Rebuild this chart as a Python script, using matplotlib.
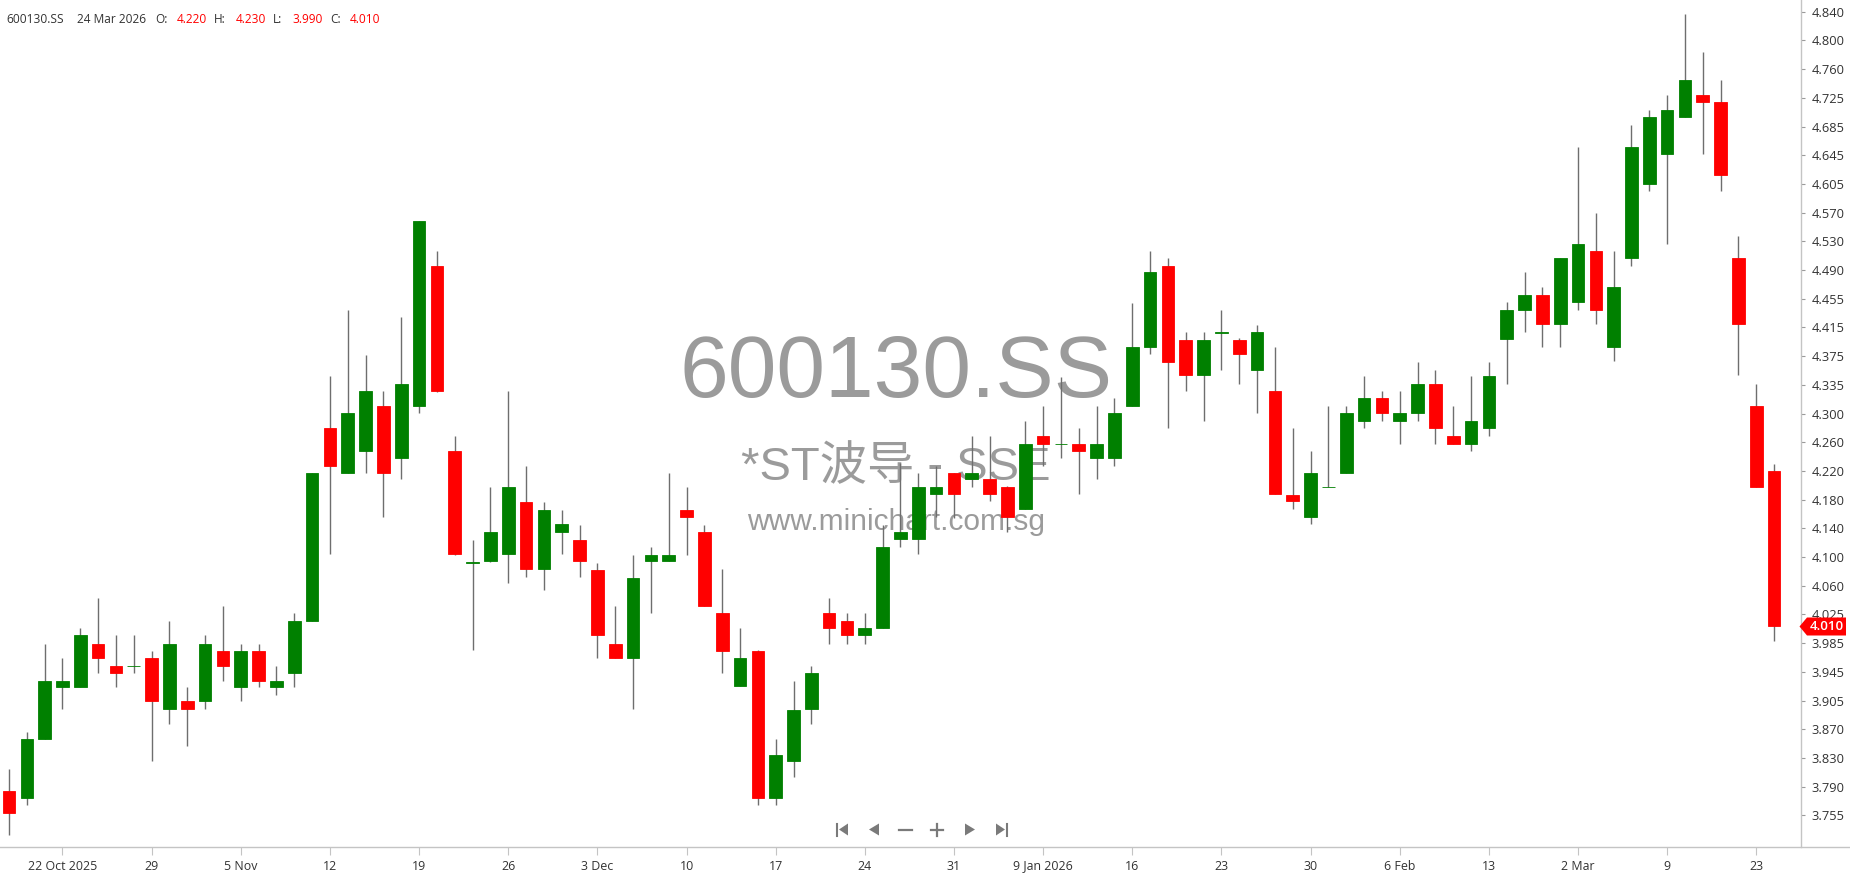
import numpy as np
import matplotlib
matplotlib.use('Agg')
import matplotlib.pyplot as plt
from matplotlib.lines import Line2D
from matplotlib.patches import Polygon

plt.rcParams['font.family'] = ['Open Sans', 'DejaVu Sans']

symbol = '600130.SS'
name = '*ST波导 - SSE'
site = 'www.minichart.com.sg'
last_date = '24 Mar 2026'

# daily OHLC, 17 Oct 2025 .. 24 Mar 2026
opens = [3.788, 3.779, 3.858, 3.928, 3.928, 3.987, 3.957, 3.956, 3.967, 3.898,
         3.909, 3.909, 3.977, 3.928, 3.977, 3.928, 3.947, 4.018, 4.278, 4.217,
         4.247, 4.308, 4.237, 4.308, 4.497, 4.247, 4.096, 4.098, 4.108, 4.178,
         4.088, 4.138, 4.127, 4.086, 3.987, 3.968, 4.098, 4.098, 4.167, 4.137,
         4.028, 3.929, 3.977, 3.779, 3.828, 3.898, 4.028, 4.018, 3.998, 4.008,
         4.128, 4.128, 4.189, 4.217, 4.209, 4.209, 4.198, 4.169, 4.267, 4.256,
         4.256, 4.237, 4.237, 4.308, 4.388, 4.497, 4.397, 4.349, 4.406, 4.397,
         4.357, 4.328, 4.188, 4.158, 4.198, 4.217, 4.288, 4.318, 4.288, 4.298,
         4.338, 4.267, 4.257, 4.278, 4.398, 4.438, 4.458, 4.419, 4.448, 4.517,
         4.388, 4.507, 4.608, 4.648, 4.698, 4.728, 4.718, 4.507, 4.308, 4.220]
highs = [3.817, 3.867, 3.987, 3.967, 4.008, 4.048, 3.998, 3.998, 3.977, 4.018,
         3.928, 3.998, 4.038, 3.987, 3.987, 3.957, 4.028, 4.217, 4.348, 4.438,
         4.377, 4.328, 4.428, 4.558, 4.517, 4.267, 4.127, 4.198, 4.328, 4.227,
         4.178, 4.167, 4.147, 4.096, 4.038, 4.107, 4.118, 4.217, 4.198, 4.147,
         4.087, 4.008, 3.978, 3.858, 3.936, 3.957, 4.048, 4.028, 4.028, 4.147,
         4.231, 4.217, 4.227, 4.217, 4.267, 4.267, 4.200, 4.288, 4.308, 4.347,
         4.278, 4.308, 4.318, 4.447, 4.517, 4.507, 4.407, 4.407, 4.437, 4.400,
         4.417, 4.387, 4.278, 4.247, 4.308, 4.308, 4.348, 4.328, 4.328, 4.367,
         4.356, 4.308, 4.348, 4.367, 4.448, 4.488, 4.468, 4.507, 4.657, 4.568,
         4.517, 4.687, 4.707, 4.728, 4.837, 4.786, 4.748, 4.537, 4.338, 4.230]
lows = [3.728, 3.769, 3.858, 3.898, 3.928, 3.947, 3.928, 3.947, 3.828, 3.878,
        3.848, 3.898, 3.937, 3.909, 3.928, 3.918, 3.928, 4.018, 4.108, 4.217,
        4.217, 4.158, 4.209, 4.298, 4.326, 4.107, 3.978, 4.097, 4.069, 4.077,
        4.059, 4.108, 4.077, 3.968, 3.968, 3.898, 4.028, 4.098, 4.107, 4.038,
        3.947, 3.929, 3.769, 3.769, 3.807, 3.878, 3.987, 3.987, 3.987, 4.008,
        4.118, 4.108, 4.158, 4.156, 4.199, 4.179, 4.138, 4.169, 4.227, 4.237,
        4.189, 4.209, 4.227, 4.308, 4.378, 4.278, 4.328, 4.288, 4.357, 4.338,
        4.298, 4.189, 4.168, 4.148, 4.198, 4.217, 4.278, 4.288, 4.257, 4.288,
        4.257, 4.257, 4.247, 4.267, 4.338, 4.407, 4.388, 4.388, 4.438, 4.419,
        4.368, 4.497, 4.598, 4.527, 4.698, 4.648, 4.598, 4.349, 4.199, 3.990]
closes = [3.758, 3.858, 3.937, 3.937, 3.998, 3.967, 3.947, 3.957, 3.909, 3.987,
          3.898, 3.987, 3.957, 3.977, 3.937, 3.937, 4.018, 4.217, 4.227, 4.298,
          4.328, 4.217, 4.338, 4.558, 4.328, 4.108, 4.097, 4.137, 4.198, 4.088,
          4.167, 4.148, 4.098, 3.998, 3.968, 4.076, 4.107, 4.107, 4.158, 4.038,
          3.977, 3.967, 3.779, 3.837, 3.897, 3.947, 4.008, 3.998, 4.008, 4.117,
          4.138, 4.198, 4.198, 4.189, 4.217, 4.189, 4.158, 4.256, 4.257, 4.257,
          4.247, 4.256, 4.298, 4.387, 4.488, 4.367, 4.349, 4.397, 4.407, 4.378,
          4.407, 4.189, 4.179, 4.217, 4.199, 4.298, 4.318, 4.298, 4.298, 4.338,
          4.278, 4.257, 4.288, 4.348, 4.437, 4.458, 4.419, 4.507, 4.527, 4.438,
          4.468, 4.657, 4.698, 4.707, 4.748, 4.718, 4.619, 4.419, 4.199, 4.010]

x_tick_labels = ['22 Oct 2025', '29', '5 Nov', '12', '19', '26', '3 Dec', '10',
                 '17', '24', '31', '9 Jan 2026', '16', '23', '30', '6 Feb', '13',
                 '2 Mar', '9', '23']
x_tick_index = list(range(3, 100, 5))
y_tick_labels = ['4.840', '4.800', '4.760', '4.725', '4.685', '4.645', '4.605',
                 '4.570', '4.530', '4.490', '4.455', '4.415', '4.375', '4.335',
                 '4.300', '4.260', '4.220', '4.180', '4.140', '4.100', '4.060',
                 '4.025', '3.985', '3.945', '3.905', '3.870', '3.830', '3.790',
                 '3.755']

W, H = 1850, 874
UP, DOWN = '#008000', '#ff0000'
TXT = '#333333'
LINE = '#c4c4c4'
WM = '#9b9b9b'
NAV = '#7a7a7a'


def fx(px):
    return px / W


def fy(py):
    return 1 - py / H


fig = plt.figure(figsize=(W / 100, H / 100), dpi=100)
ax = fig.add_axes([0, 27 / H, 1800.7 / W, 847 / H])

o = np.array(opens)
h = np.array(highs)
l = np.array(lows)
c = np.array(closes)
x = np.arange(len(o))
cols = np.where(c >= o, UP, DOWN)

ax.vlines(x, l, h, color='#6e6e6e', lw=1.0, zorder=3)
ax.bar(x, np.abs(c - o), bottom=np.minimum(o, c), width=0.71, color=cols,
       edgecolor=cols, linewidth=0.6, zorder=4)

ax.set_xlim(-0.505, 100.49)
ax.set_ylim(3.71227, 4.85593)

# watermark
wm_font = ['Liberation Sans', 'Noto Sans CJK SC']
ax.text(0.4976, 0.5313, symbol, transform=ax.transAxes, ha='center', va='baseline',
        fontsize=63, color=WM, family=wm_font, zorder=1)
ax.text(0.4976, 0.4333, name, transform=ax.transAxes, ha='center', va='baseline',
        fontsize=34, color=WM, family=wm_font, zorder=1)
ax.text(0.4976, 0.3743, site, transform=ax.transAxes, ha='center', va='baseline',
        fontsize=21.5, color=WM, family=wm_font, zorder=1)

# axes styling
ax.yaxis.tick_right()
ax.set_yticks(np.linspace(float(y_tick_labels[0]), float(y_tick_labels[-1]), len(y_tick_labels)))
ax.set_yticklabels(y_tick_labels)
ax.tick_params(axis='y', length=3, width=0.8, color='#9a9a9a', pad=5,
               labelsize=9.3, labelcolor=TXT)
ax.set_xticks(x_tick_index)
ax.set_xticklabels(x_tick_labels)
ax.tick_params(axis='x', length=6, width=0.8, color=LINE, pad=3,
               labelsize=8.9, labelcolor=TXT)
for s in ['top', 'left', 'bottom']:
    ax.spines[s].set_visible(False)
ax.spines['right'].set_color(LINE)
ax.spines['right'].set_linewidth(1)
fig.add_artist(Line2D([0, 1], [fy(847), fy(847)], color=LINE, lw=1))

# header
hdr_y = fy(22.7)
hs = 8.6
fig.text(fx(6.7), hdr_y, symbol, fontsize=hs, color=TXT, va='baseline')
fig.text(fx(77), hdr_y, last_date, fontsize=hs, color=TXT, va='baseline')
for lab, val, px_l, px_v in [('O:', opens[-1], 155, 176.7), ('H:', highs[-1], 214, 235.7),
                             ('L:', lows[-1], 273.3, 292.3), ('C:', closes[-1], 330, 350)]:
    fig.text(fx(px_l), hdr_y, lab, fontsize=hs, color=TXT, va='baseline')
    fig.text(fx(px_v), hdr_y, f'{val:.3f}', fontsize=hs, color=DOWN, va='baseline')

# last price tag
y_tag = ax.transData.transform((0, closes[-1]))[1] / H
dy = 9 / H
tag = Polygon([(fx(1799.5), y_tag), (fx(1807), y_tag + dy), (fx(1846), y_tag + dy),
               (fx(1846), y_tag - dy), (fx(1807), y_tag - dy)], closed=True,
              transform=fig.transFigure, facecolor=DOWN, edgecolor='none', zorder=5)
fig.add_artist(tag)
fig.text(fx(1826.5), y_tag, f'{closes[-1]:.3f}', fontsize=9.5, color='white',
         ha='center', va='center', fontweight='semibold', zorder=6)

# navigation buttons
ny = 829.5
def tri(pts):
    fig.add_artist(Polygon([(fx(a), fy(b)) for a, b in pts], closed=True,
                           transform=fig.transFigure, facecolor=NAV, edgecolor='none'))

def seg(x0, y0, x1, y1, lw=1.6):
    fig.add_artist(Line2D([fx(x0), fx(x1)], [fy(y0), fy(y1)], color=NAV, lw=lw))

seg(836.7, ny - 6, 836.7, ny + 6, 1.5)
tri([(839, ny), (848, ny - 6), (848, ny + 6)])
tri([(869, ny), (879, ny - 6), (879, ny + 6)])
seg(899, ny, 911.7, ny)
seg(931, ny, 943, ny)
seg(937, ny - 6, 937, ny + 6)
tri([(965, ny - 6), (965, ny + 6), (975, ny)])
tri([(996, ny - 6), (996, ny + 6), (1005, ny)])
seg(1007.3, ny - 6, 1007.3, ny + 6, 1.5)

fig.savefig('out.png', dpi=100)
